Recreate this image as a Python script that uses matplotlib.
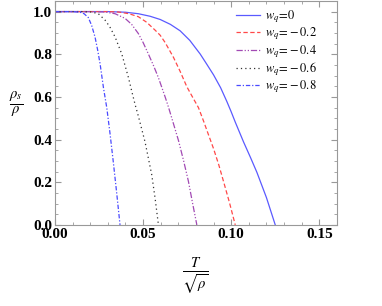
import matplotlib
matplotlib.use('Agg')
import matplotlib.pyplot as plt
from matplotlib.ticker import MultipleLocator, FormatStrFormatter

plt.rcParams['mathtext.fontset'] = 'stix'
plt.rcParams['font.family'] = 'Liberation Serif'

# values (T / sqrt(rho), rho_s / rho)
t_w0 = [0.0, 0.030, 0.040, 0.0473, 0.054, 0.0597, 0.0655, 0.071, 0.0765,
        0.0824, 0.086, 0.090, 0.094, 0.0975, 0.100, 0.1023, 0.107, 0.111,
        0.1146, 0.120, 0.125]
r_w0 = [1.0, 1.0, 0.997, 0.99, 0.978, 0.963, 0.94, 0.91, 0.865,
        0.801, 0.755, 0.703, 0.643, 0.579, 0.53, 0.482, 0.389, 0.315,
        0.246, 0.128, 0.0]

t_w02 = [0.0, 0.030, 0.036, 0.042, 0.0473, 0.052, 0.0568, 0.0597, 0.0625,
         0.0672, 0.071, 0.0748, 0.078, 0.0814, 0.0843, 0.087, 0.090, 0.093,
         0.0956, 0.099, 0.1023]
r_w02 = [1.0, 1.0, 0.998, 0.99, 0.976, 0.95, 0.913, 0.889, 0.855,
         0.786, 0.72, 0.648, 0.6, 0.55, 0.487, 0.425, 0.357, 0.28,
         0.205, 0.105, 0.0]

t_w04 = [0.0, 0.020, 0.0284, 0.0341, 0.0398, 0.0435, 0.0473, 0.050, 0.053,
         0.056, 0.0587, 0.0625, 0.0644, 0.0663, 0.0701, 0.073, 0.0757, 0.078,
         0.0805]
r_w04 = [1.0, 1.0, 0.998, 0.99, 0.968, 0.94, 0.897, 0.855, 0.801,
         0.745, 0.690, 0.6, 0.552, 0.5, 0.395, 0.3, 0.205, 0.105,
         0.0]

t_w06 = [0.0, 0.015, 0.0208, 0.0246, 0.0284, 0.031, 0.0341, 0.0379, 0.0417,
         0.0436, 0.0455, 0.0473, 0.0511, 0.0549, 0.0568, 0.0587]
r_w06 = [1.0, 1.0, 0.998, 0.99, 0.960, 0.93, 0.881, 0.801, 0.690,
         0.625, 0.563, 0.51, 0.389, 0.235, 0.125, 0.0]

t_w08 = [0.0, 0.010, 0.0142, 0.0165, 0.0189, 0.0208, 0.0227, 0.0242, 0.0256,
         0.0275, 0.0294, 0.0312, 0.0331, 0.035, 0.0369]
r_w08 = [1.0, 1.0, 0.997, 0.99, 0.972, 0.935, 0.881, 0.82, 0.754,
         0.643, 0.548, 0.43, 0.294, 0.15, 0.0]

fig = plt.figure(figsize=(3.82, 3.06), dpi=100)
ax = fig.add_axes([0.144, 0.265, 0.738, 0.732])

ax.plot(t_w0, r_w0, color='#5a5aff', lw=0.9, label=r'$w_q\!=\!0$')
ax.plot(t_w02, r_w02, color='#ff4848', lw=0.9, ls=(0, (3.5, 2)),
        label=r'$w_q\!=\!-0.2$')
ax.plot(t_w04, r_w04, color='#a24ab4', lw=0.9, ls=(0, (5, 1.5, 1, 1.5, 1, 1.5)),
        label=r'$w_q\!=\!-0.4$')
ax.plot(t_w06, r_w06, color='#333333', lw=0.9, ls=(0, (1, 2.5)),
        label=r'$w_q\!=\!-0.6$')
ax.plot(t_w08, r_w08, color='#4a4aff', lw=0.9, ls=(0, (3.5, 1.5, 1, 1.5)),
        label=r'$w_q\!=\!-0.8$')

ax.set_xlim(0, 0.16)
ax.set_ylim(0, 1.05)
ax.xaxis.set_major_locator(MultipleLocator(0.05))
ax.xaxis.set_minor_locator(MultipleLocator(0.01))
ax.yaxis.set_major_locator(MultipleLocator(0.2))
ax.yaxis.set_minor_locator(MultipleLocator(0.05))
ax.xaxis.set_major_formatter(FormatStrFormatter('%.2f'))
ax.yaxis.set_major_formatter(FormatStrFormatter('%.1f'))
ax.tick_params(which='both', direction='in', top=True, right=True,
               color='#999999', labelsize=11, pad=2)
ax.tick_params(which='major', length=4)
ax.tick_params(which='minor', length=2)
for lab in ax.get_xticklabels() + ax.get_yticklabels():
    lab.set_fontweight('bold')
for s in ax.spines.values():
    s.set_color('#999999')
    s.set_linewidth(0.8)

leg = ax.legend(loc='upper right', bbox_to_anchor=(0.955, 1.0), frameon=False,
                fontsize=9, handlelength=1.9, handletextpad=0.4,
                labelspacing=0.05, borderaxespad=0.2)

fig.text(0.043, 0.657, r'$\frac{\rho_s}{\rho}$', fontsize=15,
         ha='center', va='center')
fig.text(0.51, 0.10, r'$\frac{T}{\sqrt{\rho}}$', fontsize=15,
         ha='center', va='center')

fig.savefig('out.png', dpi=100)
